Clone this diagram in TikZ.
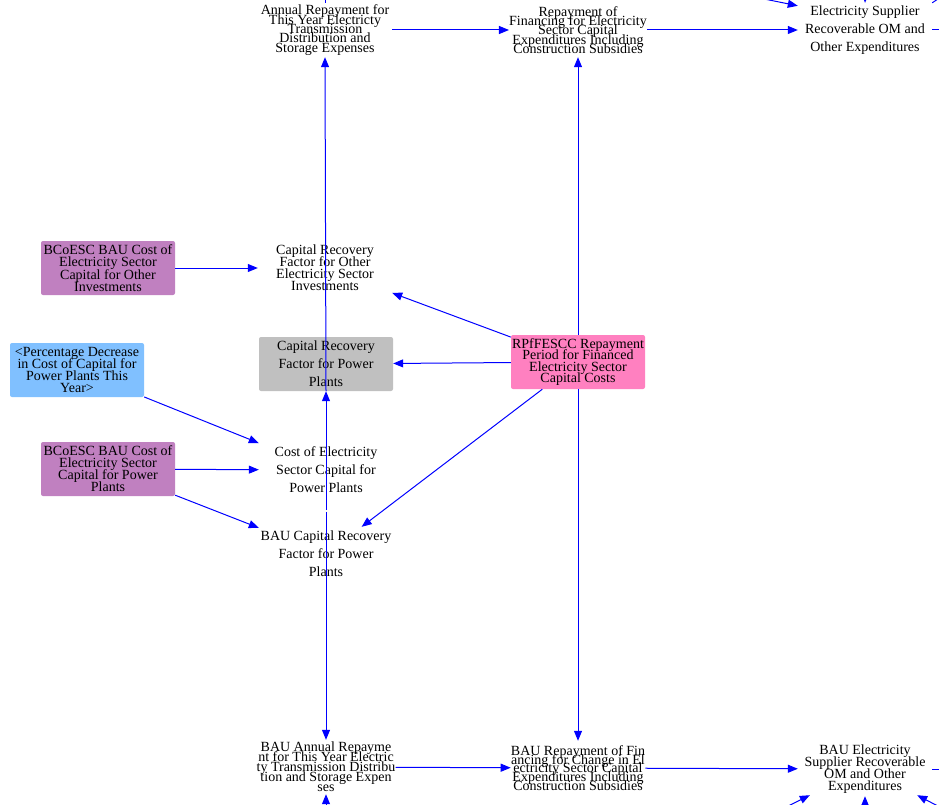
\documentclass[tikz,border=0pt]{standalone}
\usepackage{fontspec}
\setmainfont{Liberation Serif}
\usetikzlibrary{arrows.meta,calc}
\definecolor{vpurple}{RGB}{192,128,192}
\definecolor{vblue}{RGB}{128,192,255}
\definecolor{vgray}{RGB}{192,192,192}
\definecolor{vpink}{RGB}{255,128,192}
\definecolor{arrowblue}{RGB}{0,0,255}
\newcommand\vfs[1]{\fontsize{14}{#1}\selectfont\lineskiplimit=-50pt\relax}
\begin{document}
\begin{tikzpicture}[x=1pt,y=-1pt,
 var/.style={rectangle, minimum width=134pt, minimum height=54pt, inner sep=0pt, align=center, text=black, font=\vfs{#1}},
 var/.default=18,
 colbox/.style={rounded corners=2pt, fill=#1},
 arr/.style={draw=arrowblue, line width=1pt, -{Triangle[length=10pt,width=8pt]}},
 ln/.style={draw=arrowblue, line width=1pt}]
\useasboundingbox (0,0) rectangle (939,805);

\node[var=9.3] (A) at (325,30) {Annual Repayment for\\This Year Electricty\\Transmission\\Distribution and\\Storage Expenses};
\node[var=9.3] (B) at (578,30) {Repayment of\\Financing for Electricity\\Sector Capital\\Expenditures Including\\Construction Subsidies};
\node[var=18] (C) at (865,30) {Electricity Supplier\\Recoverable OM and\\Other Expenditures};
\node[var=12.3, colbox=vpurple] (D) at (108,268) {BCoESC BAU Cost of\\Electricity Sector\\Capital for Other\\Investments};
\node[var=12] (E) at (325,268) {Capital Recovery\\Factor for Other\\Electricity Sector\\Investments};
\node[var=12, colbox=vblue] (F) at (77,370) {<Percentage Decrease\\in Cost of Capital for\\Power Plants This\\Year>};
\node[var=18, colbox=vgray] (G) at (326,364) {Capital Recovery\\Factor for Power\\Plants};
\node[var=11.5, colbox=vpink] (H) at (578,362) {RPfFESCC Repayment\\Period for Financed\\Electricity Sector\\Capital Costs};
\node[var=12, colbox=vpurple] (I) at (108,469) {BCoESC BAU Cost of\\Electricity Sector\\Capital for Power\\Plants};
\node[var=18] (J) at (326,470) {Cost of Electricity\\Sector Capital for\\Power Plants};
\node[var=18] (K) at (326,554) {BAU Capital Recovery\\Factor for Power\\Plants};
\node[var=10] (L) at (326,767) {BAU Annual Repayme\\nt for This Year Electric\\ty Transmission Distribu\\tion and Storage Expen\\ses};
\node[var=8.8] (M) at (578,768) {BAU Repayment of Fin\\ancing for Change in El\\ectricity Sector Capital\\Expenditures Including\\Construction Subsidies};
\node[var=12] (N) at (865,769) {BAU Electricity\\Supplier Recoverable\\OM and Other\\Expenditures};

\coordinate (c1) at (700,-14);
\coordinate (c2) at (866,-20);
\coordinate (c3) at (326,820);
\coordinate (n1) at (770,815);
\coordinate (n2) at (865,820);
\coordinate (n3) at (955,815);

\draw[arr] (A) -- (B);
\draw[arr] (B) -- (C);
\draw[ln] (C.east) -- ++(15,0);
\draw[ln] (C.north east) -- ++(15,-10);
\draw[arr] (c1) -- ($(C.north west)+(0,3)$);
\draw[arr] (c2) -- (C.north);
\draw[ln] (A.north) -- ++(0,-12);
\draw[arr] (G.south) -- (A.south);
\draw[arr] ($(J.south)+(0,13)$) -- (G.south);
\draw[arr] ($(K.north)+(0,-15)$) -- (L.north);
\draw[arr] (c3) -- (L.south);
\draw[arr] (D) -- (E);
\draw[arr] (H) -- (E);
\draw[arr] (H) -- (G);
\draw[arr] (H) -- (B);
\draw[arr] (H) -- (M);
\draw[arr] (H) -- (K);
\draw[arr] (F) -- (J);
\draw[arr] (I) -- (J);
\draw[arr] (I) -- (K);
\draw[arr] (L) -- (M);
\draw[arr] (M) -- (N);
\draw[ln] (N.east) -- ++(15,0);
\draw[arr] (n1) -- ($(N.south west)+(12,-1)$);
\draw[arr] (n2) -- (N.south);
\draw[arr] (n3) -- ($(N.south east)+(-15,-1)$);
\end{tikzpicture}
\end{document}
